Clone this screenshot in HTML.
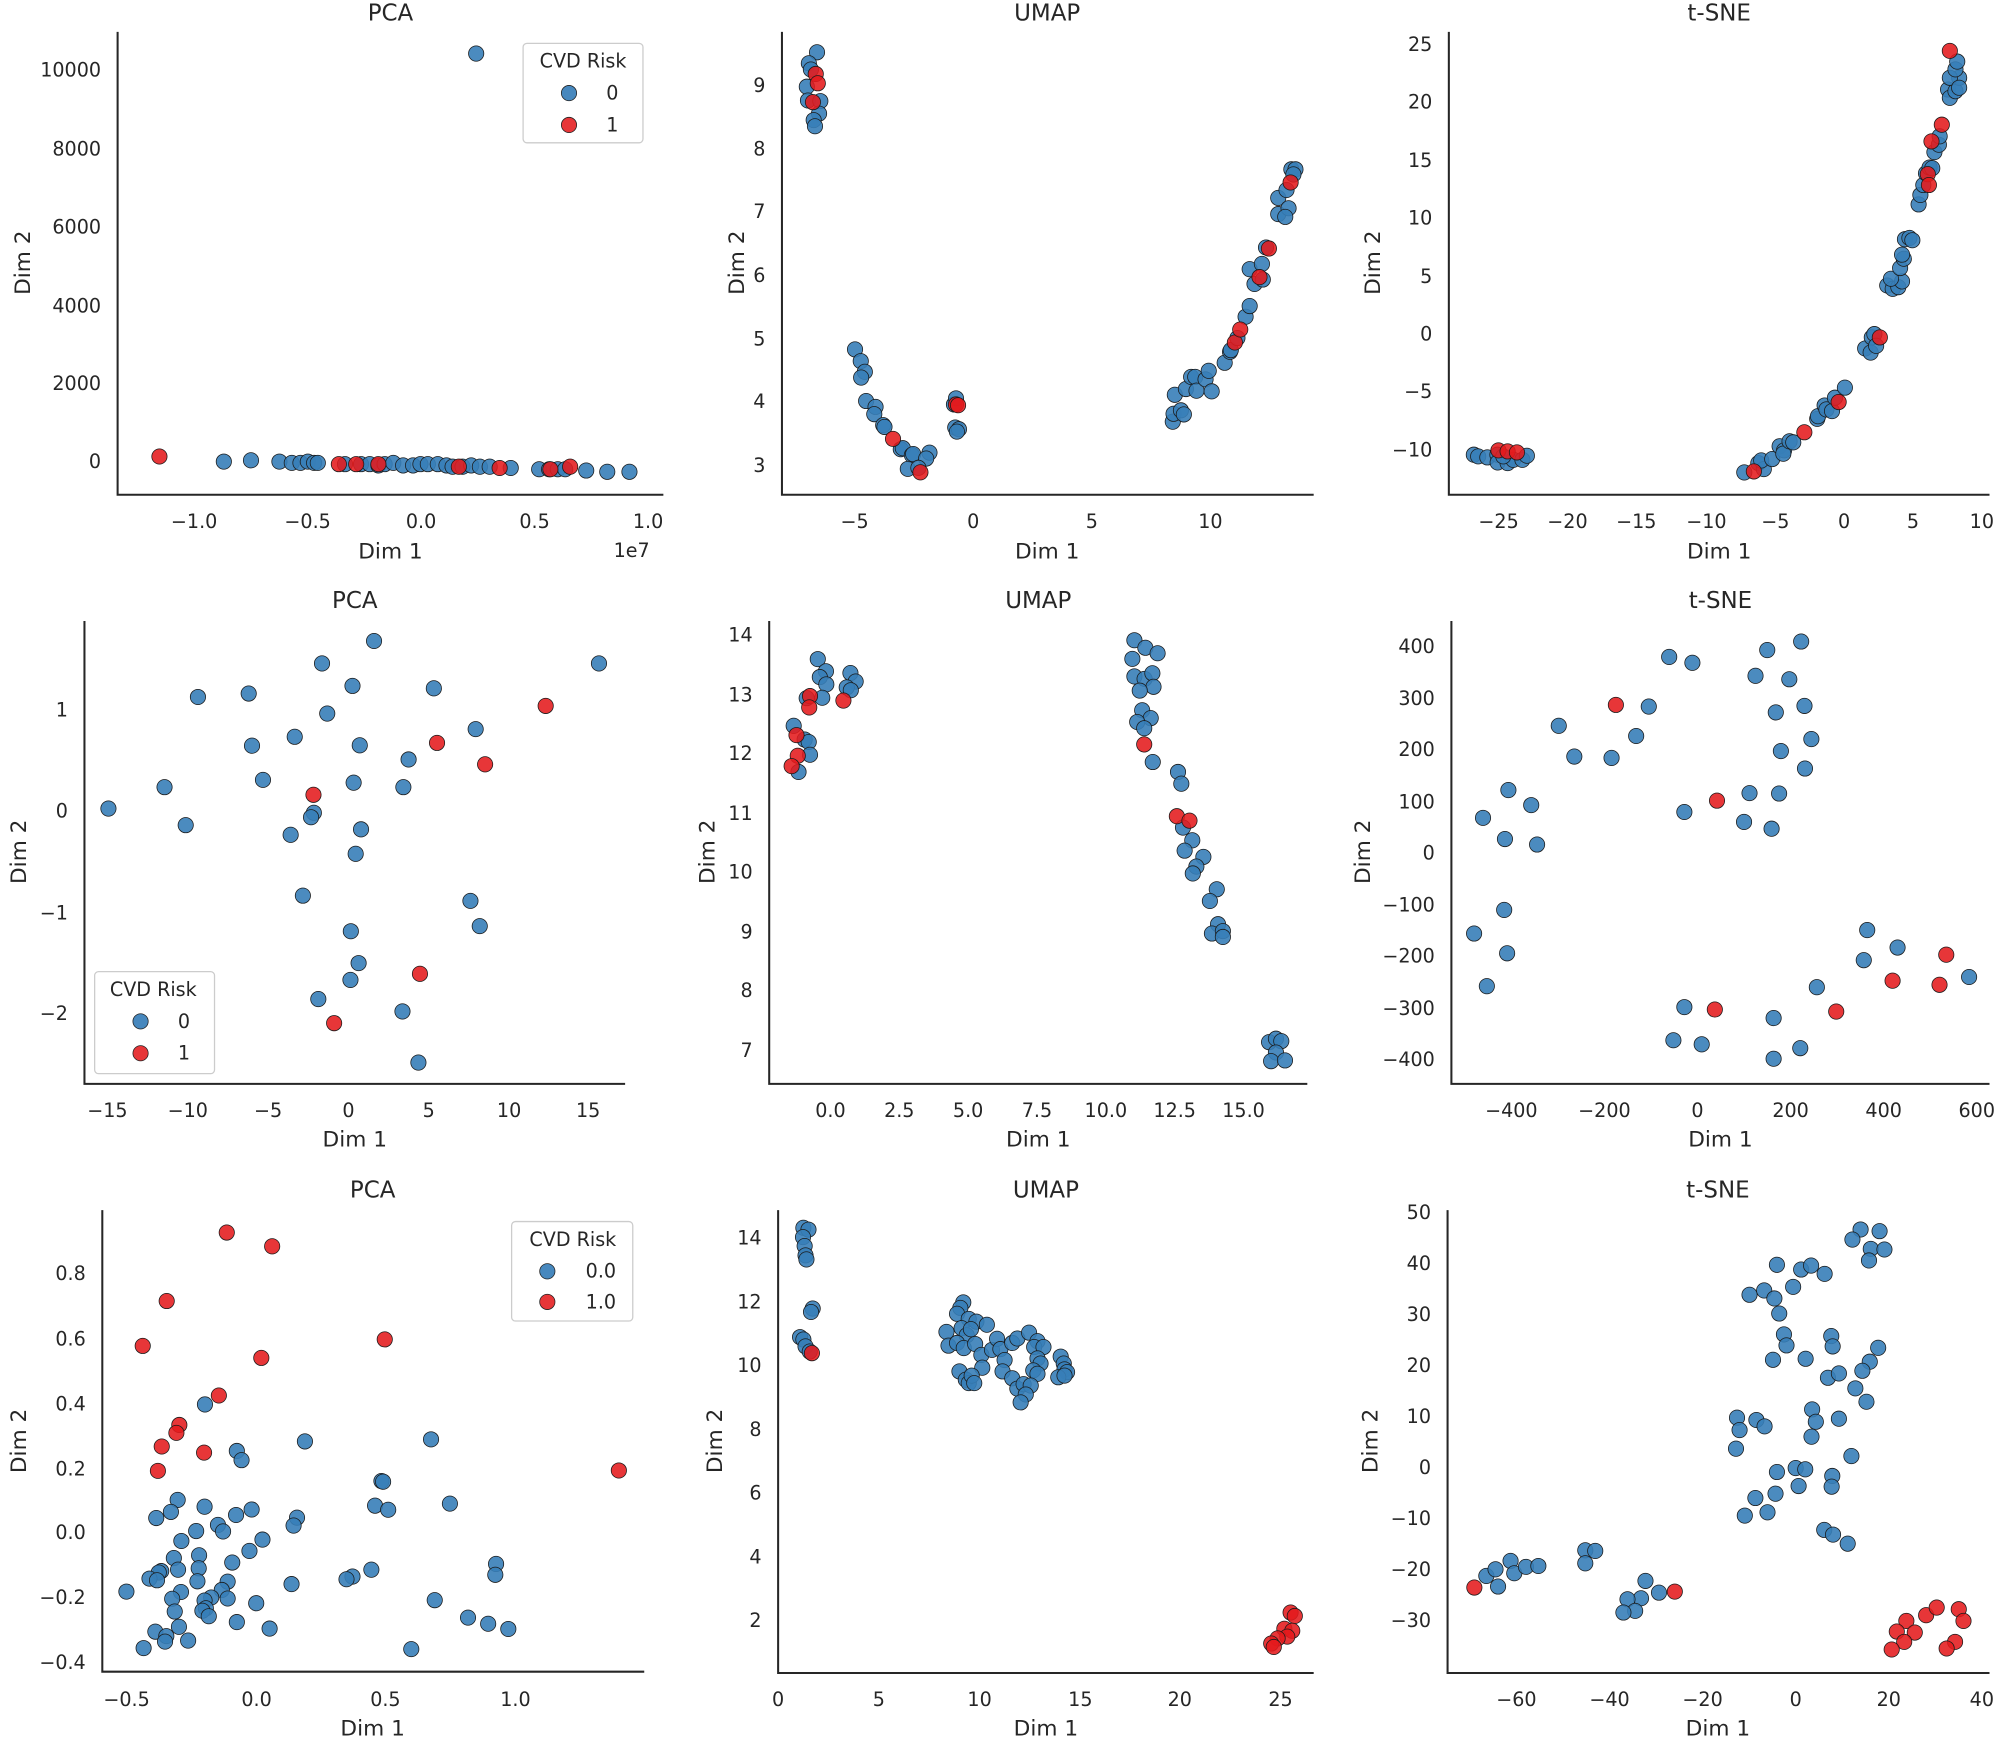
<!DOCTYPE html>
<html><head><meta charset="utf-8"><style>
html,body{margin:0;padding:0;background:#fff}
svg{display:block}
text{font-family:"DejaVu Sans","Liberation Sans",sans-serif;fill:#262626}
.t{font-size:15px}
.lab{font-size:17px}
.ti{font-size:18px}
.xt{text-anchor:middle}
.yt{text-anchor:end}
</style></head><body>
<svg id="s" width="2000" height="1738" viewBox="0 0 1568 1363" xmlns="http://www.w3.org/2000/svg">
<rect width="1568" height="1363" fill="#fff"/>
<g stroke="#262626" stroke-width="1.6" fill="none">
<path d="M92 25V388H520"/><path d="M613 25V388H1030"/><path d="M1136 25V388H1560"/>
<path d="M66 487V850H490"/><path d="M603 487V850H1025"/><path d="M1138 487V850H1560"/>
<path d="M80 949V1311H505"/><path d="M610 949V1312H1030"/><path d="M1135 949V1312H1560"/>
</g>
<!-- titles -->
<g class="ti" text-anchor="middle">
<text x="306" y="16">PCA</text><text x="821" y="16">UMAP</text><text x="1348" y="16">t-SNE</text>
<text x="278" y="477">PCA</text><text x="814" y="477">UMAP</text><text x="1349" y="477">t-SNE</text>
<text x="292" y="939">PCA</text><text x="820" y="939">UMAP</text><text x="1347" y="939">t-SNE</text>
</g>
<!-- axis labels -->
<g class="lab" text-anchor="middle">
<text x="306" y="438">Dim 1</text><text x="821" y="438">Dim 1</text><text x="1348" y="438">Dim 1</text>
<text x="278" y="899">Dim 1</text><text x="814" y="899">Dim 1</text><text x="1349" y="899">Dim 1</text>
<text x="292" y="1361">Dim 1</text><text x="820" y="1361">Dim 1</text><text x="1347" y="1361">Dim 1</text>
<text transform="translate(18,206) rotate(-90)" dominant-baseline="central">Dim 2</text>
<text transform="translate(578,206) rotate(-90)" dominant-baseline="central">Dim 2</text>
<text transform="translate(1077,206) rotate(-90)" dominant-baseline="central">Dim 2</text>
<text transform="translate(15,668) rotate(-90)" dominant-baseline="central">Dim 2</text>
<text transform="translate(555,668) rotate(-90)" dominant-baseline="central">Dim 2</text>
<text transform="translate(1069,668) rotate(-90)" dominant-baseline="central">Dim 2</text>
<text transform="translate(15,1130) rotate(-90)" dominant-baseline="central">Dim 2</text>
<text transform="translate(561,1130) rotate(-90)" dominant-baseline="central">Dim 2</text>
<text transform="translate(1075,1130) rotate(-90)" dominant-baseline="central">Dim 2</text>
</g>
<text class="t" x="481" y="437">1e7</text>
<!-- A ticks -->
<g class="t xt"><text x="152" y="414">−1.0</text><text x="241" y="414">−0.5</text><text x="330" y="414">0.0</text><text x="419" y="414">0.5</text><text x="508" y="414">1.0</text></g>
<g class="t yt"><text x="79" y="367">0</text><text x="79" y="306">2000</text><text x="79" y="245">4000</text><text x="79" y="183">6000</text><text x="79" y="122">8000</text><text x="79" y="60">10000</text></g>
<!-- B ticks -->
<g class="t xt"><text x="670" y="414">−5</text><text x="763" y="414">0</text><text x="856" y="414">5</text><text x="949" y="414">10</text></g>
<g class="t yt"><text x="600" y="370">3</text><text x="600" y="320">4</text><text x="600" y="271">5</text><text x="600" y="221">6</text><text x="600" y="171">7</text><text x="600" y="122">8</text><text x="600" y="72">9</text></g>
<!-- C ticks -->
<g class="t xt"><text x="1175" y="414">−25</text><text x="1229" y="414">−20</text><text x="1283" y="414">−15</text><text x="1338" y="414">−10</text><text x="1392" y="414">−5</text><text x="1446" y="414">0</text><text x="1500" y="414">5</text><text x="1554" y="414">10</text></g>
<g class="t yt"><text x="1123" y="40">25</text><text x="1123" y="85">20</text><text x="1123" y="131">15</text><text x="1123" y="176">10</text><text x="1123" y="222">5</text><text x="1123" y="267">0</text><text x="1123" y="312">−5</text><text x="1123" y="358">−10</text></g>
<!-- D ticks -->
<g class="t xt"><text x="84" y="876">−15</text><text x="147" y="876">−10</text><text x="210" y="876">−5</text><text x="273" y="876">0</text><text x="336" y="876">5</text><text x="399" y="876">10</text><text x="461" y="876">15</text></g>
<g class="t yt"><text x="53" y="562">1</text><text x="53" y="641">0</text><text x="53" y="721">−1</text><text x="53" y="800">−2</text></g>
<!-- E ticks -->
<g class="t xt"><text x="651" y="876">0.0</text><text x="705" y="876">2.5</text><text x="759" y="876">5.0</text><text x="813" y="876">7.5</text><text x="867" y="876">10.0</text><text x="921" y="876">12.5</text><text x="975" y="876">15.0</text></g>
<g class="t yt"><text x="590" y="503">14</text><text x="590" y="550">13</text><text x="590" y="596">12</text><text x="590" y="643">11</text><text x="590" y="689">10</text><text x="590" y="736">9</text><text x="590" y="782">8</text><text x="590" y="829">7</text></g>
<!-- F ticks -->
<g class="t xt"><text x="1185" y="876">−400</text><text x="1258" y="876">−200</text><text x="1331" y="876">0</text><text x="1404" y="876">200</text><text x="1477" y="876">400</text><text x="1550" y="876">600</text></g>
<g class="t yt"><text x="1125" y="512">400</text><text x="1125" y="553">300</text><text x="1125" y="593">200</text><text x="1125" y="634">100</text><text x="1125" y="674">0</text><text x="1125" y="715">−100</text><text x="1125" y="755">−200</text><text x="1125" y="796">−300</text><text x="1125" y="836">−400</text></g>
<!-- G ticks -->
<g class="t xt"><text x="99" y="1338">−0.5</text><text x="201" y="1338">0.0</text><text x="302" y="1338">0.5</text><text x="404" y="1338">1.0</text></g>
<g class="t yt"><text x="67" y="1004">0.8</text><text x="67" y="1055">0.6</text><text x="67" y="1106">0.4</text><text x="67" y="1157">0.2</text><text x="67" y="1207">0.0</text><text x="67" y="1258">−0.2</text><text x="67" y="1309">−0.4</text></g>
<!-- H ticks -->
<g class="t xt"><text x="610" y="1338">0</text><text x="689" y="1338">5</text><text x="768" y="1338">10</text><text x="847" y="1338">15</text><text x="925" y="1338">20</text><text x="1004" y="1338">25</text></g>
<g class="t yt"><text x="597" y="976">14</text><text x="597" y="1026">12</text><text x="597" y="1076">10</text><text x="597" y="1126">8</text><text x="597" y="1176">6</text><text x="597" y="1226">4</text><text x="597" y="1276">2</text></g>
<!-- I ticks -->
<g class="t xt"><text x="1189" y="1338">−60</text><text x="1262" y="1338">−40</text><text x="1335" y="1338">−20</text><text x="1408" y="1338">0</text><text x="1481" y="1338">20</text><text x="1554" y="1338">40</text></g>
<g class="t yt"><text x="1122" y="956">50</text><text x="1122" y="996">40</text><text x="1122" y="1036">30</text><text x="1122" y="1076">20</text><text x="1122" y="1116">10</text><text x="1122" y="1156">0</text><text x="1122" y="1196">−10</text><text x="1122" y="1236">−20</text><text x="1122" y="1276">−30</text></g>
<g id="pts"></g>
<!-- legends -->
<g>
<rect x="410" y="34" width="94" height="78" rx="3" fill="#fff" fill-opacity="0.85" stroke="#cccccc"/>
<text class="t" x="457" y="53" text-anchor="middle">CVD Risk</text>
<circle cx="446" cy="73" r="6" fill="#377eb8" fill-opacity="0.92" stroke="#222" stroke-width="0.6"/>
<circle cx="446" cy="98" r="6" fill="#e41a1c" fill-opacity="0.88" stroke="#222" stroke-width="0.6"/>
<text class="t" x="480" y="78" text-anchor="middle">0</text><text class="t" x="480" y="103" text-anchor="middle">1</text>
</g>
<g>
<rect x="74" y="762" width="94" height="80" rx="3" fill="#fff" fill-opacity="0.85" stroke="#cccccc"/>
<text class="t" x="120" y="781" text-anchor="middle">CVD Risk</text>
<circle cx="110" cy="801" r="6" fill="#377eb8" fill-opacity="0.92" stroke="#222" stroke-width="0.6"/>
<circle cx="110" cy="826" r="6" fill="#e41a1c" fill-opacity="0.88" stroke="#222" stroke-width="0.6"/>
<text class="t" x="144" y="806" text-anchor="middle">0</text><text class="t" x="144" y="831" text-anchor="middle">1</text>
</g>
<g>
<rect x="401" y="958" width="95" height="78" rx="3" fill="#fff" fill-opacity="0.85" stroke="#cccccc"/>
<text class="t" x="449" y="977" text-anchor="middle">CVD Risk</text>
<circle cx="429" cy="997" r="6" fill="#377eb8" fill-opacity="0.92" stroke="#222" stroke-width="0.6"/>
<circle cx="429" cy="1021" r="6" fill="#e41a1c" fill-opacity="0.88" stroke="#222" stroke-width="0.6"/>
<text class="t" x="471" y="1002" text-anchor="middle">0.0</text><text class="t" x="471" y="1026" text-anchor="middle">1.0</text>
</g>
</svg>
<script>
(function(){
var P={
A:[141,0.97,152,0,1,0],
B:[672,0.3207,763,1355,0.27,365],
C:[1153,0.289,1446,1005,0.2628,262],
D:[852,0.319,273,643,0.271,636.3],
E:[368,0.32,651,135,0.2706,498],
F:[855,0.3318,1331,768,0.2684,669],
G:[610,0.3295,200.7,1025,0.2684,1202.3],
H:[233,0.3308,610,175,0.2694,971],
I:[1020,0.2874,1408,835,0.2612,1151]};
var D={
A:{b:[[165,362],[187,361],[210,362],[220,363],[227,363],[233,362],[238,363],[241,363],[263,364],[276,364],[283,364],[290,365],[295,364],[302,363],[310,365],[318,365],[324,364],[330,364],[338,364],[345,365],[350,366],[358,366],[365,365],[372,366],[380,366],[397,367],[420,368],[428,368],[435,368],[441,368],[458,369],[475,370],[493,370],[369,42]],
r:[[113,358],[258,364],[272,364],[290,364],[355,366],[388,367],[429,368],[445,366]]},
B:{b:[[290,155],[270,187],[275,205],[265,255],[268,295],[298,297],[295,333],[282,352],[285,370],[383,1018],[397,1052],[407,1083],[398,1100],[410,1168],[433,1185],[430,1206],[452,1238],[455,1243],[495,1308],[500,1305],[522,1325],[525,1322],[565,1318],[557,1335],[512,1365],[538,1362],[625,1178],[630,1160],[628,1245],[637,1250],[632,1257],[1160,1228],[1162,1205],[1180,1195],[1187,1207],[1165,1150],[1192,1133],[1205,1098],[1215,1098],[1218,1138],[1240,1105],[1248,1080],[1255,1140],[1287,1057],[1300,1025],[1302,1020],[1318,985],[1338,923],[1348,892],[1360,828],[1348,785],[1378,770],[1380,815],[1388,722],[1418,578],[1438,555],[1418,625],[1443,608],[1435,633],[1450,495],[1460,495],[1455,510]],
r:[[287,218],[292,245],[280,300],[476,1278],[543,1375],[630,1178],[635,1180],[1312,998],[1325,960],[1372,808],[1395,725],[1448,533]]},
C:{b:[[148,1365],[160,1370],[185,1373],[212,1365],[213,1388],[240,1390],[255,1380],[280,1380],[292,1368],[228,1370],[882,1418],[920,1390],[935,1408],[928,1382],[958,1378],[978,1340],[990,1352],[988,1362],[1005,1325],[1015,1328],[1080,1258],[1082,1250],[1100,1218],[1105,1230],[1120,1235],[1128,1195],[1155,1165],[1210,1048],[1225,1060],[1228,1015],[1235,1005],[1240,1040],[1270,860],[1285,870],[1300,865],[1310,848],[1280,840],[1305,808],[1315,780],[1310,768],[1318,722],[1330,718],[1338,725],[1355,618],[1360,590],[1368,560],[1375,525],[1385,508],[1392,510],[1398,462],[1410,440],[1412,415],[1435,275],[1440,300],[1455,280],[1465,240],[1440,240],[1455,215],[1460,192],[1465,270]],
r:[[215,1352],[240,1355],[265,1358],[908,1415],[1045,1298],[1138,1208],[1250,1015],[1380,528],[1383,560],[1390,430],[1418,380],[1440,160]]},
D:{b:[[915,150],[787,215],[1468,215],[862,280],[1062,287],[607,302],[482,312],[800,360],[1165,405],[720,427],[615,453],[880,452],[1000,493],[642,552],[865,560],[987,573],[400,573],[262,635],[767,647],[760,660],[452,683],[883,695],[710,711],[870,766],[740,887],[1152,902],[1175,975],[858,990],[877,1082],[857,1131],[778,1186],[985,1222],[1024,1370]],
r:[[1337,338],[1070,445],[1188,507],[766,595],[1028,1113],[817,1256]]},
E:{b:[[337,205],[357,240],[342,257],[358,278],[348,317],[310,318],[417,245],[430,270],[408,287],[418,295],[278,398],[305,438],[315,445],[318,482],[290,532],[1113,150],[1140,172],[1170,188],[1108,204],[1113,255],[1138,262],[1157,246],[1160,285],[1126,296],[1132,353],[1153,376],[1120,387],[1137,405],[1158,503],[1220,532],[1228,566],[1232,693],[1255,730],[1236,760],[1282,778],[1265,806],[1256,826],[1315,872],[1298,906],[1318,973],[1303,1000],[1330,993],[1330,1010],[1443,1315],[1460,1305],[1473,1312],[1460,1345],[1448,1370],[1482,1368]],
r:[[318,312],[316,345],[400,325],[285,425],[288,485],[273,515],[1137,452],[1217,660],[1248,673]]},
F:{b:[[1100,150],[1020,175],[788,195],[843,212],[992,250],[1072,260],[740,340],[1108,338],[1040,357],[527,396],[710,426],[1124,435],[1052,470],[564,486],[652,490],[1109,521],[978,593],[1048,594],[408,584],[462,628],[348,665],[824,648],[965,677],[1030,697],[400,727],[476,743],[398,934],[327,1003],[405,1061],[357,1157],[1256,993],[1328,1044],[1248,1081],[1497,1130],[1137,1160],[824,1218],[1035,1250],[798,1315],[865,1327],[1098,1338],[1035,1369]],
r:[[662,335],[901,615],[1443,1065],[1316,1141],[1427,1153],[896,1225],[1183,1231]]},
G:{b:[[488,649],[726,757],[1026,751],[564,785],[575,812],[908,873],[912,875],[423,928],[487,948],[407,963],[372,981],[562,972],[599,956],[707,980],[699,1003],[893,945],[924,957],[1071,939],[519,1001],[531,1020],[467,1019],[432,1048],[625,1044],[594,1077],[474,1090],[414,1098],[553,1111],[424,1132],[473,1128],[384,1136],[378,1140],[356,1158],[374,1163],[470,1166],[542,1167],[694,1174],[839,1152],[825,1160],[884,1132],[1181,1115],[1179,1147],[301,1196],[431,1197],[410,1217],[528,1191],[503,1213],[542,1216],[487,1222],[490,1245],[482,1252],[497,1268],[416,1254],[610,1230],[1035,1221],[426,1299],[370,1313],[396,1326],[393,1342],[448,1339],[564,1285],[642,1304],[342,1361],[1114,1272],[1162,1290],[1210,1305],[979,1364]],
r:[[540,147],[648,187],[397,347],[340,478],[916,459],[622,513],[521,623],[427,709],[420,732],[385,772],[486,790],[376,843],[1473,842]]},
H:{b:[[293,145],[305,150],[292,172],[296,198],[298,225],[300,237],[315,380],[311,390],[285,463],[293,470],[298,490],[308,505],[672,362],[665,378],[657,395],[685,410],[703,418],[728,427],[632,448],[668,437],[680,458],[690,440],[637,488],[657,480],[673,495],[700,483],[715,515],[740,500],[752,468],[760,498],[788,480],[800,467],[828,450],[848,475],[840,492],[862,492],[770,530],[848,525],[855,540],[838,560],[848,570],[717,552],[663,563],[678,587],[685,597],[692,575],[698,597],[765,563],[788,583],[800,613],[815,600],[832,604],[820,630],[808,653],[903,520],[910,540],[912,557],[918,565],[897,580],[912,575]],
r:[[313,510],[1448,1265],[1458,1275],[1433,1312],[1452,1318],[1440,1335],[1417,1340],[1402,1355],[1408,1365]]},
I:{b:[[1197,120],[1249,125],[1175,150],[1225,178],[1262,180],[1220,213],[969,226],[1035,240],[1062,228],[1099,253],[1013,292],[894,316],[934,303],[962,327],[975,372],[988,435],[995,468],[958,511],[1047,508],[1117,440],[1121,471],[1245,475],[1222,517],[1202,544],[1108,565],[1138,552],[1183,597],[1213,637],[1065,660],[1075,697],[1138,688],[1063,742],[860,685],[867,722],[913,692],[935,711],[857,778],[1172,800],[969,848],[1020,836],[1046,840],[1120,860],[1118,892],[1028,890],[965,913],[910,926],[943,969],[881,979],[1098,1022],[1122,1036],[1162,1063],[176,1160],[201,1140],[242,1115],[252,1152],[284,1133],[318,1130],[208,1192],[446,1083],[473,1085],[446,1122],[610,1175],[647,1210],[598,1227],[561,1230],[582,1265],[550,1270]],
r:[[143,1195],[690,1207],[1322,1295],[1296,1327],[1345,1330],[1316,1358],[1282,1381],[1376,1278],[1405,1255],[1465,1260],[1478,1295],[1455,1358],[1432,1378]]}
};
var g=document.getElementById('pts'),ns='http://www.w3.org/2000/svg';
function add(k,list,col,op){var c=P[k];list.forEach(function(p){
var e=document.createElementNS(ns,'circle');
var x=c[2]+(p[0]-c[0])*c[1], y=c[5]+(p[1]-c[3])*c[4];
e.setAttribute('cx',x.toFixed(1));e.setAttribute('cy',y.toFixed(1));e.setAttribute('r','6');
e.setAttribute('fill',col);e.setAttribute('fill-opacity',op);e.setAttribute('stroke','#1a1a1a');e.setAttribute('stroke-width','0.6');
g.appendChild(e);});}
for(var k in D){add(k,D[k].b,'#377eb8','0.9');add(k,D[k].r,'#e41a1c','0.88');}
})();
</script>
</body></html>
